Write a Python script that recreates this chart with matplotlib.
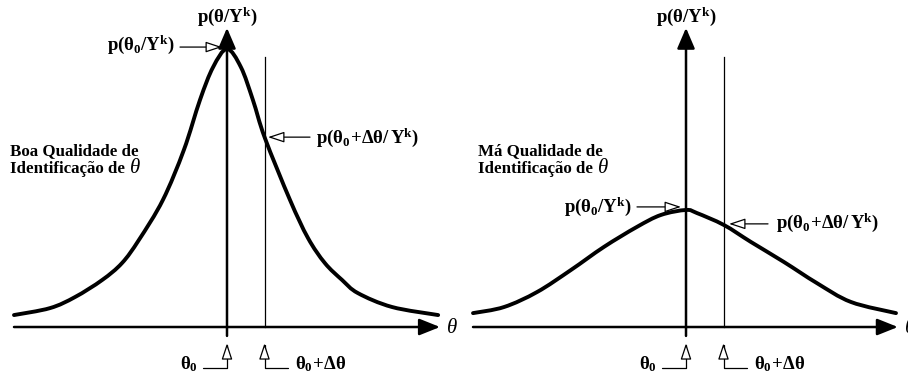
import matplotlib
matplotlib.use("Agg")
import matplotlib.pyplot as plt
from matplotlib.path import Path
from matplotlib.patches import PathPatch

plt.rcParams["mathtext.fontset"] = "custom"
plt.rcParams["mathtext.rm"] = "Liberation Serif:bold"
plt.rcParams["mathtext.bf"] = "Liberation Serif:bold"
plt.rcParams["mathtext.it"] = "Liberation Serif:italic"

# Posterior density curves (theta in units of delta-theta, centred on theta_0)
theta_good = [-5.68, -4.72, -4.05, -3.33, -2.80, -2.35, -1.71, -1.15, -0.72, -0.37,
              0.00, 0.37, 0.69, 1.01, 1.68, 2.16, 2.61, 3.07, 3.49, 4.40, 5.63]
p_good = [0.043, 0.068, 0.108, 0.169, 0.230, 0.313, 0.457, 0.637, 0.817, 0.935,
          1.000, 0.935, 0.817, 0.680, 0.457, 0.320, 0.230, 0.169, 0.122, 0.072, 0.043]

theta_bad = [-5.68, -4.85, -3.97, -3.07, -2.19, -1.31, -0.67, 0.00, 0.29, 1.01,
             1.73, 2.61, 3.49, 4.40, 5.60]
p_bad = [0.050, 0.072, 0.126, 0.205, 0.288, 0.360, 0.403, 0.421, 0.410, 0.367,
         0.306, 0.234, 0.158, 0.090, 0.050]

theta0 = 0.0
dtheta = 1.0

panel_titles = ["Boa Qualidade de", "Má Qualidade de"]
panel_sub = "Identificação de"
y_label = r"$\mathbf{p(\theta/Y^k)}$"
peak_label = r"$\mathbf{p(\theta_0/Y^k)}$"
shift_label = r"$\mathbf{p(\theta_0\!+\!\Delta\theta/\,Y^k)}$"
t0_label = r"$\mathbf{\theta_0}$"
t1_label = r"$\mathbf{\theta_0\!+\!\Delta\theta}$"

FS = 12.2     # caption text
FM = 13.5     # math labels


def smooth_path(xs, ys):
    """Catmull-Rom curve through the given points, as cubic Bezier segments."""
    pts = list(zip(xs, ys))
    verts = [pts[0]]
    codes = [Path.MOVETO]
    n = len(pts)
    for i in range(n - 1):
        p0 = pts[max(i - 1, 0)]
        p1 = pts[i]
        p2 = pts[i + 1]
        p3 = pts[min(i + 2, n - 1)]
        c1 = (p1[0] + (p2[0] - p0[0]) / 6, p1[1] + (p2[1] - p0[1]) / 6)
        c2 = (p2[0] - (p3[0] - p1[0]) / 6, p2[1] - (p3[1] - p1[1]) / 6)
        verts += [c1, c2, p2]
        codes += [Path.CURVE4] * 3
    return Path(verts, codes)


fig = plt.figure(figsize=(9.08, 3.83), dpi=100)
fig.patch.set_facecolor("white")

panels = [
    dict(rect=[0.0, 0.0, 0.5, 1.0], xlim=(-6.053, 6.053), th=theta_good, p=p_good,
         title=panel_titles[0], txt_x=-5.787,
         peak_txt=(-1.387, 0.996), peak_arr=(-1.253, -0.133, 1.007),
         sh_txt=(2.373, 0.662), sh_arr=(2.213, 1.093, 0.683),
         xaxis=(-5.68, 5.68)),
    dict(rect=[0.5, 0.0, 0.5, 1.0], xlim=(-6.187, 5.92), th=theta_bad, p=p_bad,
         title=panel_titles[1], txt_x=-5.547,
         peak_txt=(-1.44, 0.414), peak_arr=(-1.307, -0.133, 0.432),
         sh_txt=(2.40, 0.356), sh_arr=(2.187, 1.147, 0.371),
         xaxis=(-5.68, 5.65)),
]

open_arrow = dict(arrowstyle="-|>,head_length=1.0,head_width=0.33",
                  lw=0.9, color="black", fc="white", shrinkA=0, shrinkB=0,
                  mutation_scale=10)
elbow_arrow = dict(open_arrow, connectionstyle="angle,angleA=0,angleB=90,rad=0")

for cfg in panels:
    ax = fig.add_axes(cfg["rect"])
    ax.set_xlim(*cfg["xlim"])
    ax.set_ylim(-0.2014, 1.1763)
    ax.axis("off")

    # density curve
    ax.add_patch(PathPatch(smooth_path(cfg["th"], cfg["p"]), fill=False,
                           edgecolor="black", lw=2.8, capstyle="round", zorder=3))

    # theta axis
    x0, x1 = cfg["xaxis"]
    ax.annotate("", xy=(x1, 0), xytext=(x0, 0),
                arrowprops=dict(arrowstyle="-|>,head_length=0.7,head_width=0.28",
                                lw=1.8, color="black", shrinkA=0, shrinkB=0,
                                mutation_scale=18))
    ax.text(x1 + 0.15, 0.0, r"$\theta$", fontsize=15, ha="left", va="center")

    # density axis
    ax.annotate("", xy=(theta0, 1.076), xytext=(theta0, -0.032),
                arrowprops=dict(arrowstyle="-|>,head_length=0.7,head_width=0.3",
                                lw=1.8, color="black", shrinkA=0, shrinkB=0,
                                mutation_scale=18))
    ax.text(theta0, 1.097, y_label, fontsize=FM, ha="center", va="baseline")

    # theta_0 + delta theta reference line
    ax.plot([theta0 + dtheta, theta0 + dtheta], [0, 0.971], color="black", lw=0.9)

    # pointers to the density values
    sx, tx, ty = cfg["peak_arr"]
    ax.annotate("", xy=(tx, ty), xytext=(sx, ty), arrowprops=open_arrow)
    ax.text(*cfg["peak_txt"], peak_label, fontsize=FM, ha="right", va="baseline")
    sx, tx, ty = cfg["sh_arr"]
    ax.annotate("", xy=(tx, ty), xytext=(sx, ty), arrowprops=open_arrow)
    ax.text(*cfg["sh_txt"], shift_label, fontsize=FM, ha="left", va="baseline")

    # markers below the theta axis
    ax.annotate("", xy=(theta0, -0.058), xytext=(theta0 - 0.64, -0.1475),
                arrowprops=elbow_arrow)
    ax.text(theta0 - 0.77, -0.151, t0_label, fontsize=FM, ha="right", va="baseline")
    ax.annotate("", xy=(theta0 + dtheta, -0.058), xytext=(theta0 + dtheta + 0.63, -0.1475),
                arrowprops=elbow_arrow)
    ax.text(theta0 + dtheta + 0.80, -0.151, t1_label, fontsize=FM, ha="left", va="baseline")

    # panel caption
    ax.text(cfg["txt_x"], 0.618, cfg["title"], fontsize=FS, fontfamily="Liberation Serif",
            fontweight="bold", ha="left", va="baseline")
    sub = ax.text(cfg["txt_x"], 0.554, panel_sub, fontsize=FS, fontfamily="Liberation Serif",
                  fontweight="bold", ha="left", va="baseline")
    ax.annotate(r"$\theta$", xy=(1, 0), xycoords=sub, xytext=(3, 0),
                textcoords="offset points", fontsize=15, ha="left", va="bottom")

fig.savefig("out.png", dpi=100, facecolor="white")
